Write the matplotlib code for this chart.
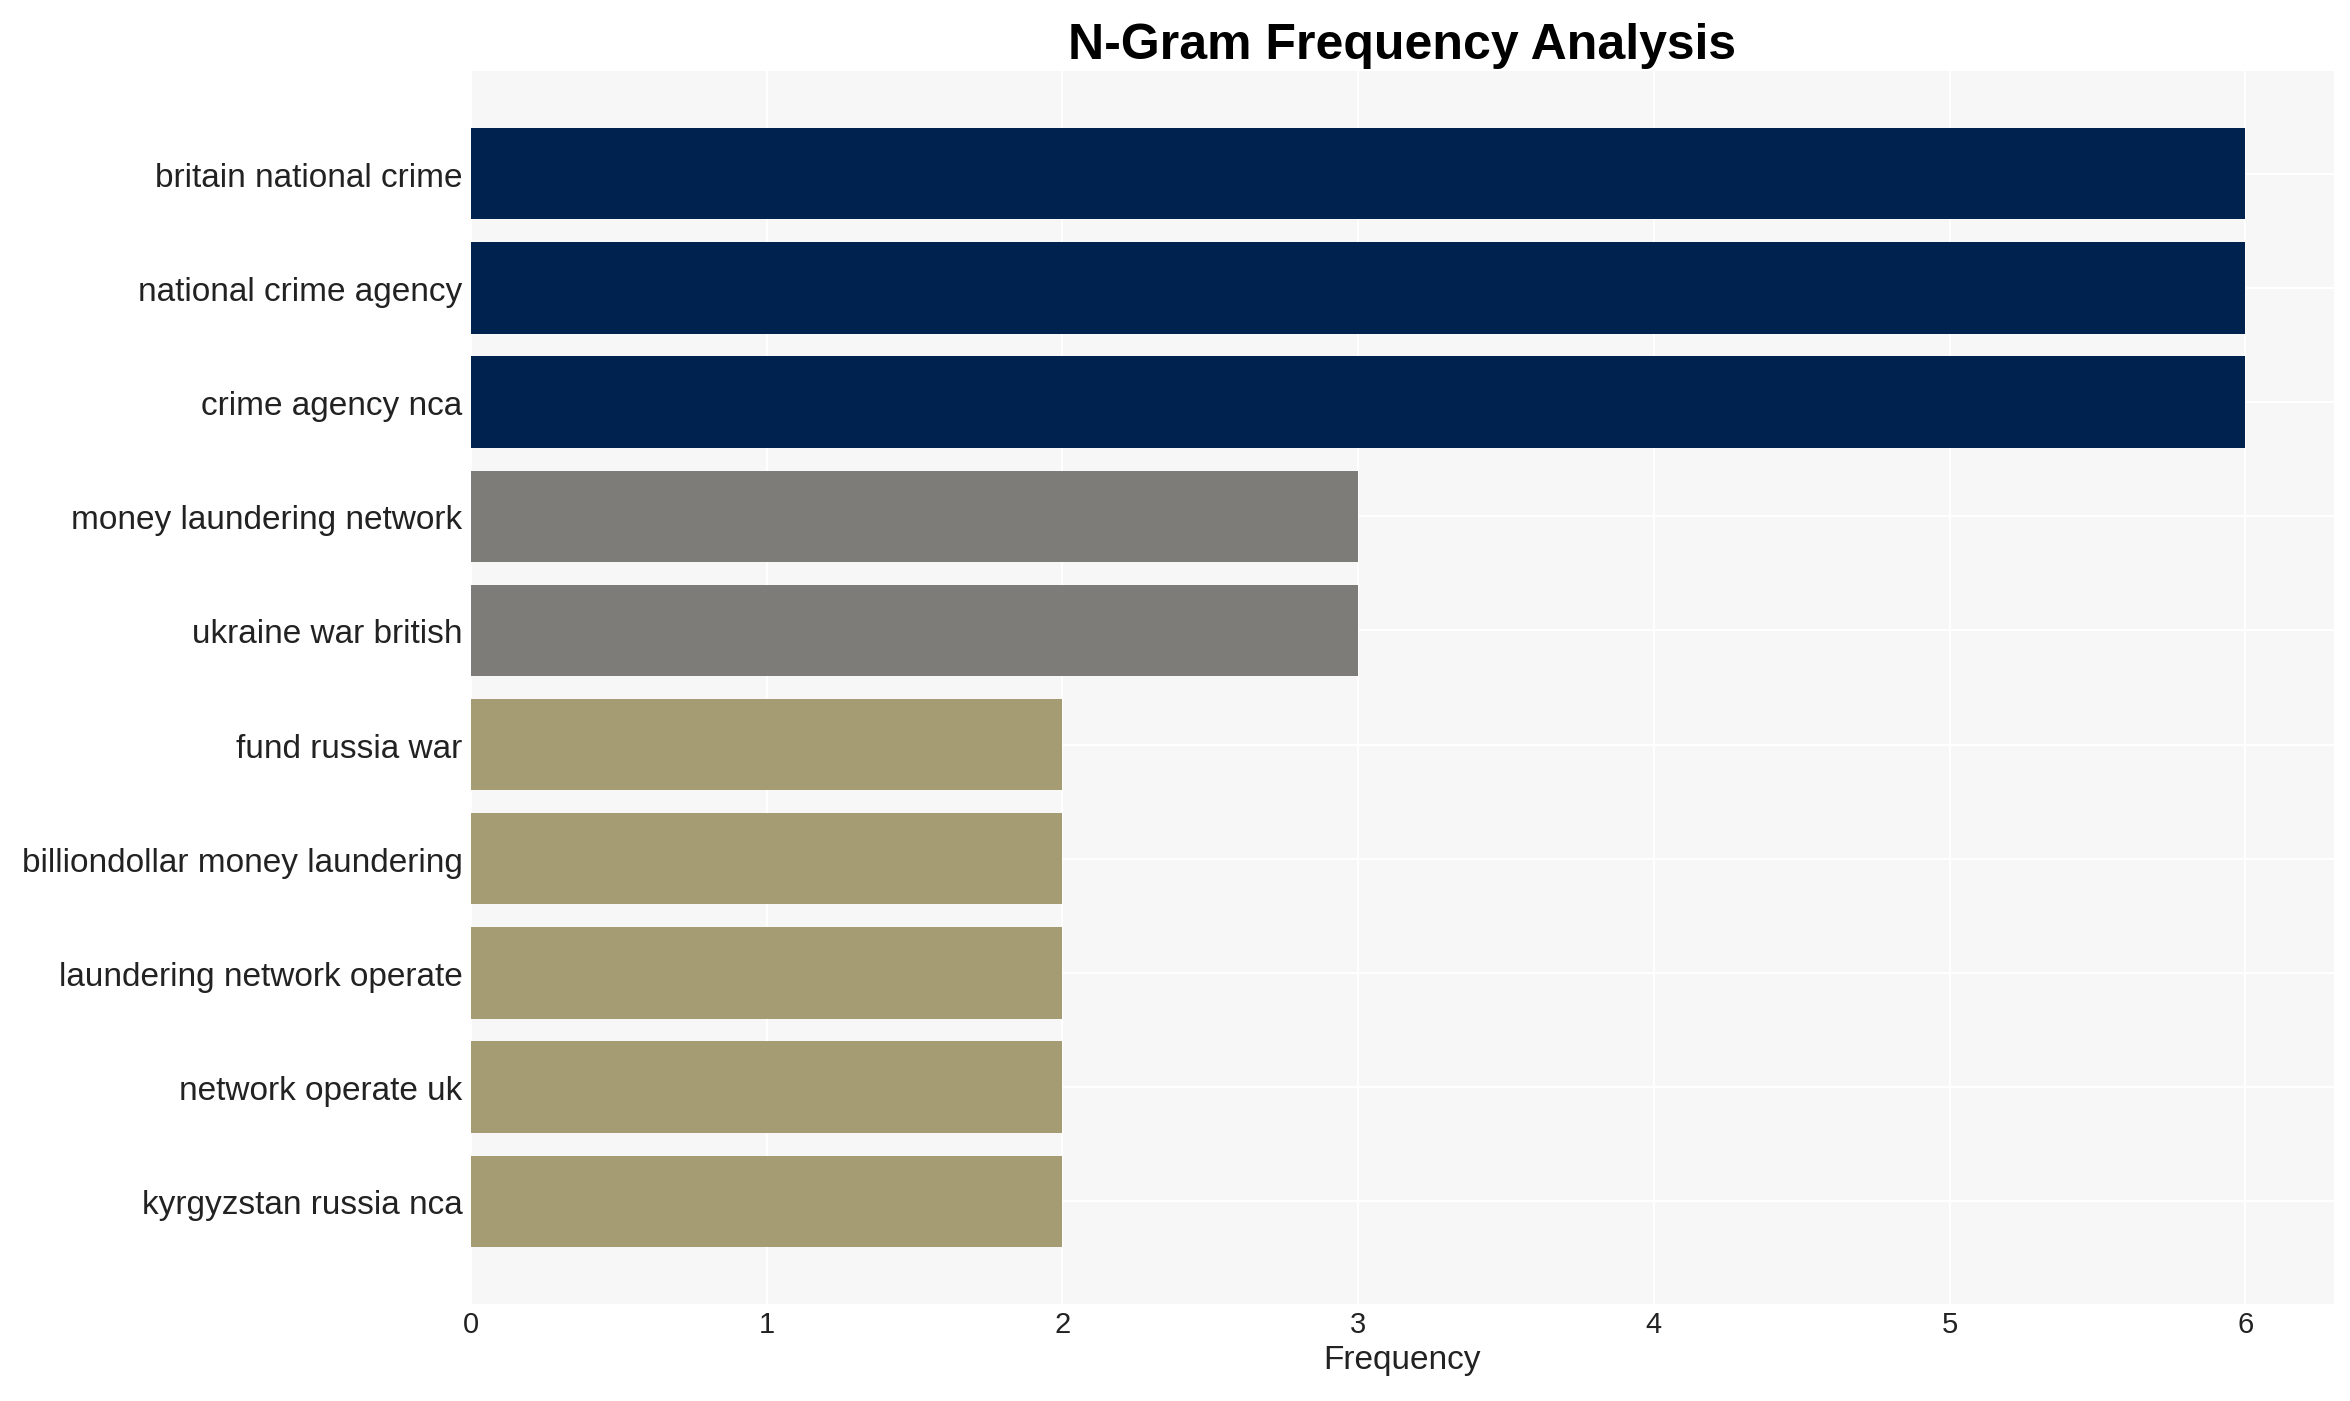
import matplotlib
matplotlib.use('Agg')
import matplotlib.pyplot as plt

# n-gram counts, top to bottom
ngrams = ['britain national crime', 'national crime agency', 'crime agency nca',
          'money laundering network', 'ukraine war british', 'fund russia war',
          'billiondollar money laundering', 'laundering network operate',
          'network operate uk', 'kyrgyzstan russia nca']
counts = [6, 6, 6, 3, 3, 2, 2, 2, 2, 2]
bar_colors = ['#00224e', '#00224e', '#00224e', '#7d7c78', '#7d7c78',
              '#a59c74', '#a59c74', '#a59c74', '#a59c74', '#a59c74']

plt.rcParams['font.family'] = ['Liberation Sans', 'DejaVu Sans']

fig, ax = plt.subplots(figsize=(2350 / 150, 1402 / 150), dpi=150)
fig.subplots_adjust(left=0.2004, right=0.9932, top=0.9486, bottom=0.0692)

ax.set_facecolor('#f7f7f7')
ax.barh(range(len(ngrams)), counts, height=0.8, color=bar_colors, zorder=2)
ax.set_yticks(range(len(ngrams)))
ax.set_yticklabels(ngrams, fontsize=16, color='#222222')
ax.set_ylim(len(ngrams) - 1 + 0.9, -0.9)
ax.set_xlim(0, 6.3)
ax.tick_params(axis='x', labelsize=14, colors='#222222', length=0, pad=3)
ax.tick_params(axis='y', length=0, pad=4)
ax.grid(True, color='white', linewidth=1, zorder=0)
ax.set_axisbelow(True)
for s in ax.spines.values():
    s.set_visible(False)

ax.set_xlabel('Frequency', fontsize=16, color='#222222', labelpad=3)
ax.set_title('N-Gram Frequency Analysis', fontsize=24, fontweight='bold', pad=6.5)

plt.savefig('out.png', dpi=150)
